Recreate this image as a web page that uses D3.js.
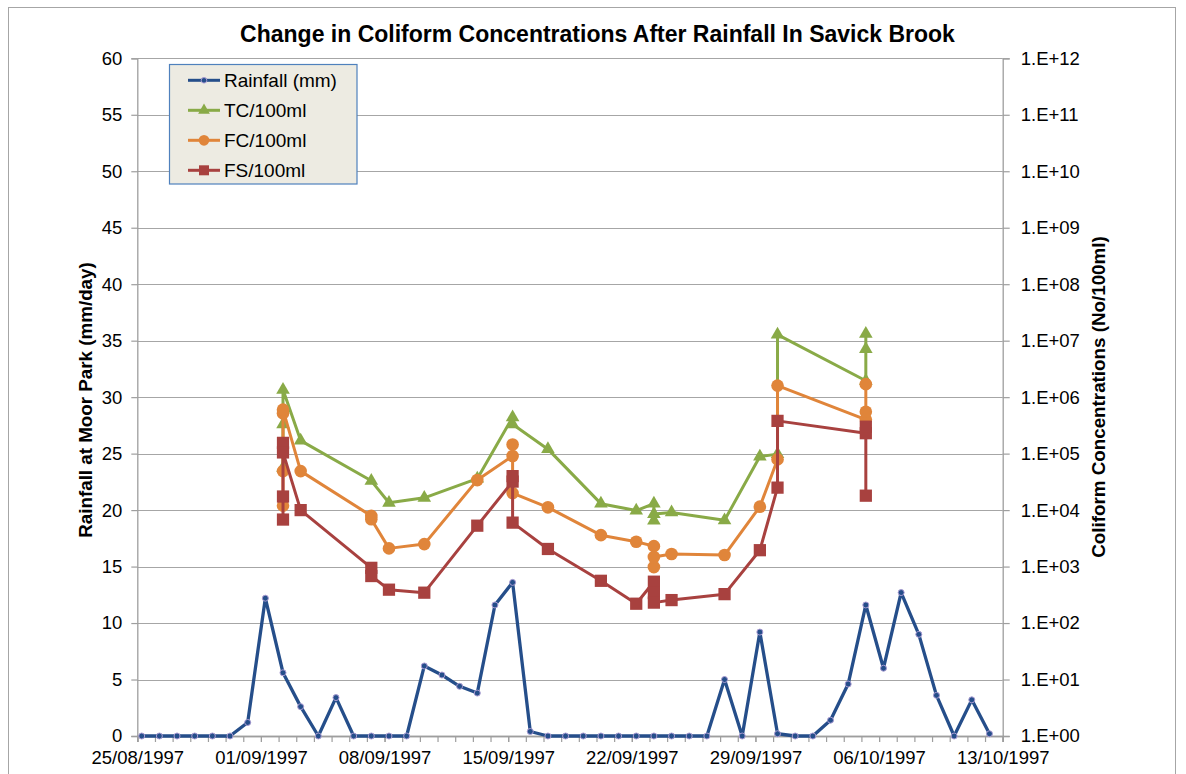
<!DOCTYPE html>
<html>
<head>
<meta charset="utf-8">
<script src="https://cdn.jsdelivr.net/npm/d3@7"></script>
<style>
  html, body { margin: 0; padding: 0; background: #fff; }
  svg { display: block; font-family: "Liberation Sans", Arial, sans-serif; }
</style>
</head>
<body>
<svg id="chart" width="1186" height="774"></svg>
<script>
// ---------------- DATA ----------------
const chartTitle = "Change in Coliform Concentrations After Rainfall In Savick Brook";
const leftTitle = "Rainfall at Moor Park (mm/day)";
const rightTitle = "Coliform Concentrations (No/100ml)";
const seriesNames = ["Rainfall (mm)", "TC/100ml", "FC/100ml", "FS/100ml"];

const xTickLabels = ["25/08/1997", "01/09/1997", "08/09/1997", "15/09/1997", "22/09/1997", "29/09/1997", "06/10/1997", "13/10/1997"];
const leftTicks = [0, 5, 10, 15, 20, 25, 30, 35, 40, 45, 50, 55, 60];
const rightTicks = [1e0, 1e1, 1e2, 1e3, 1e4, 1e5, 1e6, 1e7, 1e8, 1e9, 1e10, 1e11, 1e12];

// daily rainfall, one reading per day starting 25/08/1997
const rainStart = "25/08/1997 06:00";
const rainfall = [
  0, 0, 0, 0, 0, 0, 1.2,                                   // 25/08 - 31/08
  12.2, 5.6, 2.6, 0, 3.4, 0, 0, 0, 0, 6.2,                  // 01/09 - 10/09
  5.4, 4.4, 3.8, 11.6, 13.6, 0.4, 0, 0, 0, 0,               // 11/09 - 20/09
  0, 0, 0, 0, 0, 0, 5.0, 0, 9.2, 0.2,                       // 21/09 - 30/09
  0, 0, 1.4, 4.6, 11.6, 6.0, 12.7, 9.0, 3.6, 0, 3.2, 0.2    // 01/10 - 12/10
];

// sampling occasions (several samples on some occasions)
const sampleDates = [
  "02/09/1997 06:00", "03/09/1997 06:00", "07/09/1997 06:00", "08/09/1997 06:00",
  "10/09/1997 06:00", "13/09/1997 06:00", "15/09/1997 06:00", "17/09/1997 06:00",
  "20/09/1997 06:00", "22/09/1997 06:00", "23/09/1997 06:00", "24/09/1997 06:00",
  "27/09/1997 06:00", "29/09/1997 06:00", "30/09/1997 06:00", "05/10/1997 06:00"
];
const tcValues = [
  [5.6e4, 3.3e5, 1.35e6], [1.7e5], [3.3e4], [1.35e4], [1.65e4], [3.6e4],
  [4.4e5, 3.3e5], [1.2e5], [1.3e4], [9.8e3], [1.3e4, 6.5e3, 8.5e3], [9.1e3],
  [6.6e3], [8.9e4], [9.8e4, 1.28e7], [1.95e6, 7.1e6, 1.32e7]
];
const fcValues = [
  [1.2e4, 4.9e4, 5.2e5, 6.0e5], [4.9e4], [7.9e3, 6.9e3], [2.1e3], [2.5e3], [3.4e4],
  [9.1e4, 1.45e5, 2.0e4], [1.12e4], [3.6e3], [2.75e3], [2.3e3, 9.8e2, 1.48e3], [1.67e3],
  [1.6e3], [1.15e4], [7.9e4, 1.6e6], [4.0e5, 5.5e5, 1.7e6]
];
const fsValues = [
  [6.8e3, 1.74e4, 1.55e5, 1.05e5], [1.0e4], [9.5e2, 6.8e2], [3.9e2], [3.45e2], [5.3e3],
  [3.2e4, 4.0e4, 6.0e3], [2.05e3], [5.6e2], [2.2e2], [5.4e2, 3.4e2, 2.3e2], [2.55e2],
  [3.25e2], [1.95e3], [2.5e4, 3.8e5], [2.3e5, 3.0e5, 1.8e4]
];

// ---------------- STYLE ----------------
const colors = { rain: "#254E8A", rainMarkerStroke: "#A99BD2", tc: "#89AA47", fc: "#E0853A", fs: "#A8413F" };
const gridColor = "#A6A6A6";
const axisColor = "#9E9E9E";

// ---------------- SCALES ----------------
const parse = d3.timeParse("%d/%m/%Y %H:%M");
const parseDay = d3.timeParse("%d/%m/%Y");
const plot = { left: 137.3, right: 1002.7, top: 58.3, bottom: 736 };

const xTickDates = xTickLabels.map(parseDay);
const x = d3.scaleTime().domain([xTickDates[0], xTickDates[xTickDates.length - 1]]).range([plot.left, plot.right]);
const yL = d3.scaleLinear().domain([0, 60]).range([plot.bottom, plot.top]);
const yR = d3.scaleLog().domain([1, 1e12]).range([plot.bottom, plot.top]);

const svg = d3.select("#chart");

// chart border
svg.append("rect").attr("x", 8.5).attr("y", 7.5).attr("width", 1167).attr("height", 790)
  .attr("fill", "#fff").attr("stroke", "#A6A6A6").attr("stroke-width", 1);

// gridlines
svg.append("g").selectAll("line").data(leftTicks.slice(1)).join("line")
  .attr("x1", plot.left).attr("x2", plot.right)
  .attr("y1", d => Math.round(yL(d)) + 0.5).attr("y2", d => Math.round(yL(d)) + 0.5)
  .attr("stroke", gridColor).attr("stroke-width", 1.2);

// axes
const fontSize = 18.5;
const leftAxis = d3.axisLeft(yL).tickValues(leftTicks).tickSize(6).tickPadding(9).tickFormat(d3.format("d"));
const gL = svg.append("g").attr("transform", `translate(${plot.left},0)`).call(leftAxis);
const rightAxis = d3.axisRight(yR).tickValues(rightTicks).tickSize(7).tickPadding(11)
  .tickFormat(d => "1.E+" + String(Math.round(Math.log10(d))).padStart(2, "0"));
const gR = svg.append("g").attr("transform", `translate(${plot.right},0)`).call(rightAxis);

const minorDays = d3.timeDay.range(xTickDates[0], d3.timeDay.offset(xTickDates[xTickDates.length - 1], 1));
const gXm = svg.append("g").attr("transform", `translate(0,${plot.bottom})`)
  .call(d3.axisBottom(x).tickValues(minorDays).tickSize(6).tickFormat(""));
const gX = svg.append("g").attr("transform", `translate(0,${plot.bottom})`)
  .call(d3.axisBottom(x).tickValues(xTickDates).tickSize(6).tickPadding(9).tickFormat(d3.timeFormat("%d/%m/%Y")));

[gL, gR, gX, gXm].forEach(g => {
  g.select(".domain").attr("stroke", axisColor).attr("stroke-width", 1.3);
  g.selectAll(".tick line").attr("stroke", axisColor).attr("stroke-width", 1.2);
  g.selectAll("text").attr("fill", "#000").attr("font-size", fontSize).attr("font-family", "Liberation Sans, Arial, sans-serif");
});
gX.selectAll("text").attr("dy", "0.71em");

// titles
svg.append("text").attr("x", 597.5).attr("y", 41.5).attr("text-anchor", "middle")
  .attr("font-weight", "bold").attr("font-size", 23).text(chartTitle);
svg.append("text").attr("transform", `translate(91.5,400) rotate(-90)`).attr("text-anchor", "middle")
  .attr("font-weight", "bold").attr("font-size", 18.8).text(leftTitle);
svg.append("text").attr("transform", `translate(1105,397) rotate(-90)`).attr("text-anchor", "middle")
  .attr("font-weight", "bold").attr("font-size", 18.8).text(rightTitle);

// ---------------- SERIES ----------------
const rainStartDate = parse(rainStart);
const rainData = rainfall.map((v, i) => ({ date: d3.timeDay.offset(rainStartDate, i), value: v }));

function flatten(values) {
  const out = [];
  sampleDates.forEach((ds, i) => values[i].forEach(v => out.push({ date: parse(ds), value: v })));
  return out;
}
const tcData = flatten(tcValues), fcData = flatten(fcValues), fsData = flatten(fsValues);

// rainfall
svg.append("path").datum(rainData)
  .attr("d", d3.line().x(d => x(d.date)).y(d => yL(d.value)))
  .attr("fill", "none").attr("stroke", colors.rain).attr("stroke-width", 3.3).attr("stroke-linejoin", "round");
svg.append("g").selectAll("circle").data(rainData).join("circle")
  .attr("cx", d => x(d.date)).attr("cy", d => yL(d.value)).attr("r", 3)
  .attr("fill", colors.rain).attr("stroke", colors.rainMarkerStroke).attr("stroke-width", 1);

const sym = {
  tc: d3.symbol().type(d3.symbolTriangle).size(80),
  fc: d3.symbol().type(d3.symbolCircle).size(125),
  fs: d3.symbol().type(d3.symbolSquare).size(150)
};
function drawSeries(data, color, symbolGen) {
  svg.append("path").datum(data)
    .attr("d", d3.line().x(d => x(d.date)).y(d => yR(d.value)))
    .attr("fill", "none").attr("stroke", color).attr("stroke-width", 3).attr("stroke-linejoin", "round");
  svg.append("g").selectAll("path").data(data).join("path")
    .attr("transform", d => `translate(${x(d.date)},${yR(d.value)})`)
    .attr("d", symbolGen()).attr("fill", color);
}
drawSeries(tcData, colors.tc, sym.tc);
drawSeries(fcData, colors.fc, sym.fc);
drawSeries(fsData, colors.fs, sym.fs);

// ---------------- LEGEND ----------------
const lg = svg.append("g");
lg.append("rect").attr("x", 169.5).attr("y", 64.5).attr("width", 187.5).attr("height", 119.5)
  .attr("fill", "#EDEBE2").attr("stroke", "#4F81BD").attr("stroke-width", 1.2);
const legendItems = [
  { name: seriesNames[0], color: colors.rain, kind: "rain" },
  { name: seriesNames[1], color: colors.tc, kind: "tc" },
  { name: seriesNames[2], color: colors.fc, kind: "fc" },
  { name: seriesNames[3], color: colors.fs, kind: "fs" }
];
const legendSym = {
  tc: d3.symbol().type(d3.symbolTriangle).size(60)(),
  fc: d3.symbol().type(d3.symbolCircle).size(90)(),
  fs: d3.symbol().type(d3.symbolSquare).size(100)()
};
legendItems.forEach((it, i) => {
  const cy = 80.3 + i * 30;
  lg.append("line").attr("x1", 188).attr("x2", 220).attr("y1", cy).attr("y2", cy)
    .attr("stroke", it.color).attr("stroke-width", 3);
  if (it.kind === "rain") {
    lg.append("circle").attr("cx", 204).attr("cy", cy).attr("r", 2.8)
      .attr("fill", it.color).attr("stroke", colors.rainMarkerStroke).attr("stroke-width", 1);
  } else {
    lg.append("path").attr("transform", `translate(204,${cy})`).attr("d", legendSym[it.kind]).attr("fill", it.color);
  }
  lg.append("text").attr("x", 224).attr("y", cy + 7).attr("font-size", 19).attr("fill", "#000").text(it.name);
});
</script>
</body>
</html>
